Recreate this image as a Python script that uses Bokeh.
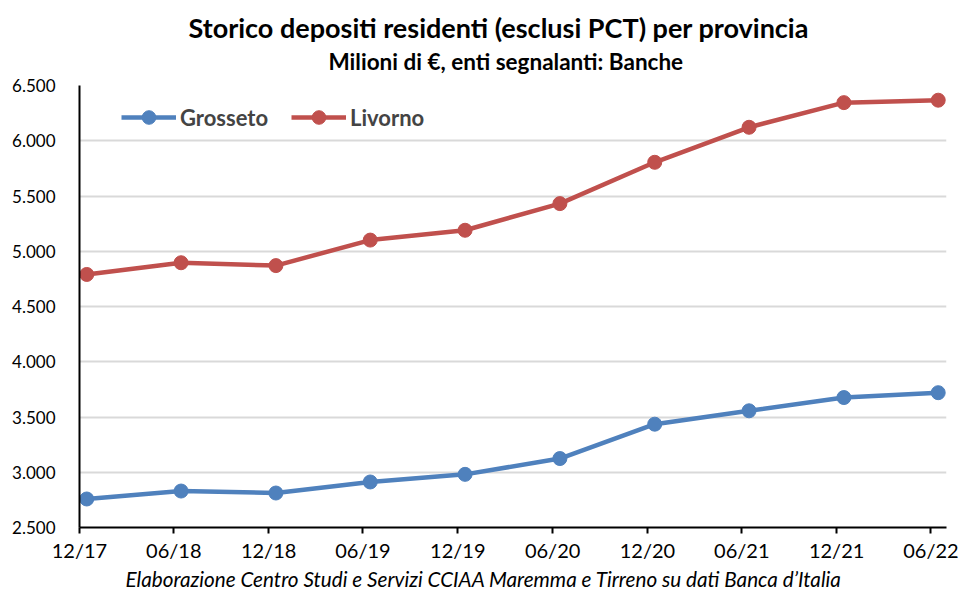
from datetime import datetime
from bokeh.plotting import figure
from bokeh.models import (Title, FixedTicker, DatetimeTickFormatter, Range1d, Legend)
from bokeh.embed import file_html
from bokeh.resources import INLINE

periods = ["12/17", "06/18", "12/18", "06/19", "12/19", "06/20", "12/20", "06/21", "12/21", "06/22"]
grosseto = [2758, 2830, 2812, 2912, 2981, 3124, 3435, 3556, 3676, 3720]
livorno = [4790, 4896, 4870, 5101, 5190, 5431, 5805, 6122, 6345, 6367]
y_ticks = [2500, 3000, 3500, 4000, 4500, 5000, 5500, 6000, 6500]
y_labels = ["2.500", "3.000", "3.500", "4.000", "4.500", "5.000", "5.500", "6.000", "6.500"]

FONT = "Lato"

def to_date(s, day):
    m, y = s.split("/")
    return datetime(2000 + int(y), int(m), day)

x_pts = [to_date(s, 15) for s in periods]
x_ticks = [to_date(s, 1) for s in periods]
tick_ms = [t.timestamp() * 1000 for t in x_ticks]

p = figure(width=960, height=590, output_backend="svg", toolbar_location=None,
           x_axis_type="datetime",
           x_range=Range1d(datetime(2017, 12, 1), datetime(2022, 7, 1)),
           y_range=Range1d(2500, 6500),
           min_border_left=79, min_border_right=14, min_border_top=85, min_border_bottom=60)
p.outline_line_color = None

p.add_layout(Title(text="Milioni di €, enti segnalanti: Banche", align="left", offset=249,
                   text_font=FONT, text_font_size="22.5px", text_font_style="bold",
                   text_color="black", standoff=22), "above")
p.add_layout(Title(text="Storico depositi residenti (esclusi PCT) per provincia", align="left",
                   offset=99, text_font=FONT, text_font_size="27px", text_font_style="bold",
                   text_color="black", standoff=-19, padding=(10, 0, 0, 0)), "above")

l1 = p.line(x_pts, grosseto, line_color="#4F81BD", line_width=4.5)
s1 = p.scatter(x_pts, grosseto, size=14, fill_color="#4F81BD", line_color="#4F81BD")
l2 = p.line(x_pts, livorno, line_color="#C0504D", line_width=4.5)
s2 = p.scatter(x_pts, livorno, size=14, fill_color="#C0504D", line_color="#C0504D")

legend = Legend(items=[("Grosseto", [l1, s1]), ("Livorno", [l2, s2])],
                orientation="horizontal", location=(42, 393),
                label_text_font=FONT, label_text_font_size="22px", label_text_font_style="bold",
                border_line_color=None, background_fill_alpha=0, glyph_width=55,
                glyph_height=34, label_standoff=4, spacing=23, padding=0, margin=0)
p.add_layout(legend, "center")

p.xaxis.ticker = FixedTicker(ticks=tick_ms)
p.xaxis.formatter = DatetimeTickFormatter(days="%m/%y", months="%m/%y", years="%m/%y")
p.xaxis.major_label_text_font = FONT
p.xaxis.major_label_text_font_size = "20px"
p.xaxis.major_label_text_color = "black"
p.xaxis.axis_line_color = "black"
p.xaxis.axis_line_width = 2
p.xaxis.major_tick_line_color = "black"
p.xaxis.major_tick_line_width = 2
p.xaxis.major_tick_out = 6
p.xaxis.major_tick_in = 0
p.xaxis.minor_tick_line_color = None
p.xaxis.major_label_standoff = 4

p.yaxis.ticker = FixedTicker(ticks=y_ticks)
p.yaxis.major_label_overrides = {t: l for t, l in zip(y_ticks, y_labels)}
p.yaxis.major_label_text_font = FONT
p.yaxis.major_label_text_font_size = "17px"
p.yaxis.major_label_text_color = "black"
p.yaxis.axis_line_color = "black"
p.yaxis.axis_line_width = 2
p.yaxis.major_tick_line_color = None
p.yaxis.minor_tick_line_color = None
p.yaxis.major_label_standoff = 18

p.xgrid.grid_line_color = None
p.ygrid.grid_line_color = "#D9D9D9"
p.ygrid.grid_line_width = 2

p.add_layout(Title(text="Elaborazione Centro Studi e Servizi CCIAA Maremma e Tirreno su dati Banca d’Italia",
                   align="left", offset=46, text_font=FONT, text_font_size="20.7px",
                   text_font_style="italic", text_color="black", standoff=0), "below")

open("out.html", "w").write(file_html(p, INLINE))
